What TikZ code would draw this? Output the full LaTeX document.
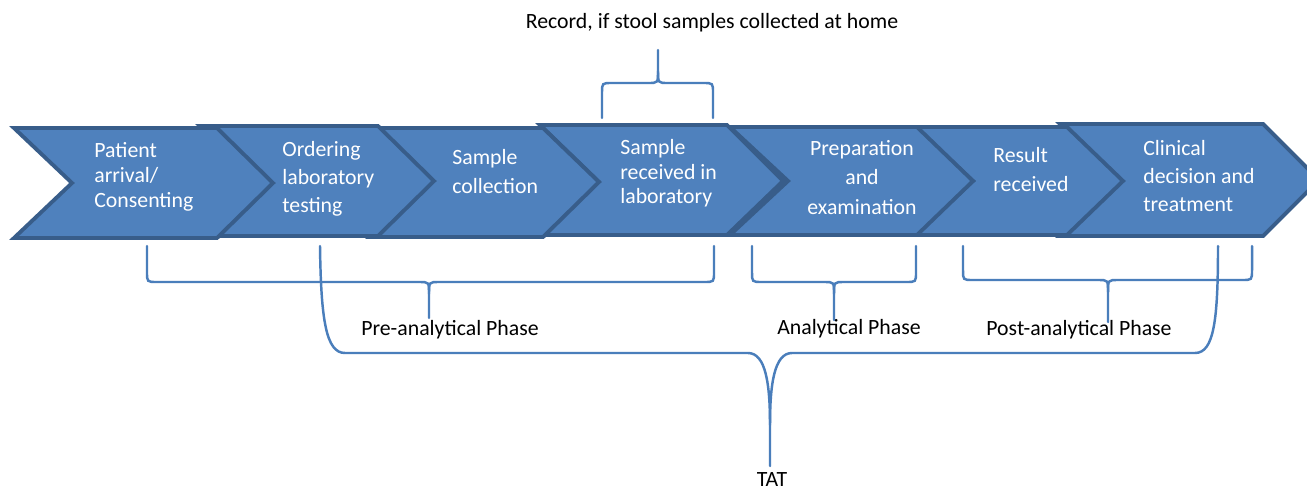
\documentclass[tikz,border=0pt]{standalone}
\usepackage{fontspec}
\setmainfont{Carlito}
\definecolor{chevfill}{RGB}{79,129,189}
\definecolor{chevline}{RGB}{56,93,138}
\definecolor{bracecol}{RGB}{74,126,187}
\newcommand\chevronshape[5]{%
  \path[chev] (#1,#3) -- (#2,#3) -- ({#2+56},#5) -- (#2,#4) -- (#1,#4) -- ({#1+58},#5) -- cycle;}
\newcommand\downbrace[7]{%
  \draw[brace] (#1,#3) -- (#1,{#4-#7}) .. controls (#1,#4) .. ({#1+#7},#4) -- ({#5-10},#4) .. controls (#5,#4) .. (#5,{#4+12}) -- (#5,#6);
  \draw[brace] (#2,#3) -- (#2,{#4-#7}) .. controls (#2,#4) .. ({#2-#7},#4) -- ({#5+10},#4) .. controls (#5,#4) .. (#5,{#4+12});}
\begin{document}
\begin{tikzpicture}[x=0.02cm,y=-0.02cm,
  chev/.style={fill=chevfill,draw=chevline,line width=2.2pt,line join=miter},
  steptext/.style={text=white,align=left,inner sep=0pt,anchor=west},
  phase/.style={text=black,inner sep=0pt,font=\fontsize{12.4}{15}\selectfont},
  brace/.style={draw=bracecol,line width=1.4pt,line cap=round}]
\clip (0,0) rectangle (1307,490);
\fill[white] (0,0) rectangle (1307,490);
% chevrons, drawn right to left so each tip lies over the next one
\chevronshape{1060}{1263}{124}{236}{180}
\chevronshape{915}{1067}{127}{235}{181}
\chevronshape{730}{917}{127}{235}{181}
\chevronshape{540}{727}{125}{235}{181}
\chevronshape{370}{543}{128}{237}{182}
\chevronshape{200}{378}{126}{236}{181}
\chevronshape{14}{217}{128}{238}{183}
% step texts
\node[steptext,font=\fontsize{12.4}{14.2}\selectfont] (t1) at (94,177) {Patient\\arrival/\\Consenting};
\node[steptext,font=\fontsize{12.4}{15.9}\selectfont] (t2) at (282,178.5) {Ordering\\laboratory\\testing};
\node[steptext,font=\fontsize{12.4}{16.4}\selectfont] (t3) at (452,171.5) {Sample\\collection};
\node[steptext,font=\fontsize{12.4}{13.9}\selectfont] (t4) at (620,173.5) {Sample\\received in\\laboratory};
\node[steptext,align=center,anchor=center,font=\fontsize{12.4}{16.7}\selectfont] (t5) at (862,177.5) {Preparation\\and\\examination};
\node[steptext,font=\fontsize{12.4}{16.4}\selectfont] (t6) at (993,169.5) {Result\\received};
\node[steptext,font=\fontsize{12.4}{15.9}\selectfont] (t7) at (1143,176) {Clinical\\decision and\\treatment};
% braces
\draw[brace] (602,118) -- (602,93) .. controls (602,83) .. (612,83) -- (648,83) .. controls (658,83) .. (658,71) -- (658,50);
\draw[brace] (713,118) -- (713,93) .. controls (713,83) .. (703,83) -- (668,83) .. controls (658,83) .. (658,71);
\downbrace{147}{714}{246}{282}{429}{318}{10}
\downbrace{752}{916}{246}{282}{834}{320}{10}
\downbrace{963}{1252}{246}{280}{1108}{322}{10}
\draw[brace] (320,246) .. controls (321,320) and (326,353) .. (345,353) -- (748,353) .. controls (766,353) and (770,385) .. (770,425) -- (770,466);
\draw[brace] (1218,246) .. controls (1218,320) and (1214,353) .. (1195,353) -- (792,353) .. controls (774,353) and (770,385) .. (770,425);
% labels
\node[phase] (rec) at (712,23) {Record, if stool samples collected at home};
\node[phase] (pre) at (450,330) {Pre-analytical Phase};
\node[phase] (ana) at (849,329) {Analytical Phase};
\node[phase] (post) at (1079,330) {Post-analytical Phase};
\node[phase] (tat) at (772,480) {TAT};
\end{tikzpicture}
\end{document}
